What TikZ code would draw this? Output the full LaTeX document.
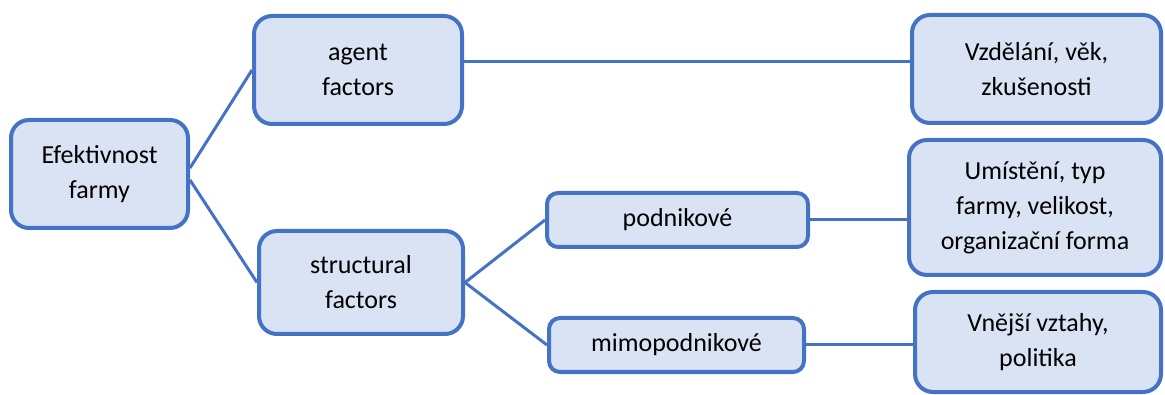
\documentclass[tikz,border=0pt]{standalone}
\usepackage{fontspec}
\setmainfont{Carlito}
\definecolor{boxblue}{HTML}{4472C4}
\definecolor{boxfill}{HTML}{DAE3F3}

\begin{document}
\begin{tikzpicture}[x=1pt,y=-1pt,
  box/.style={draw=boxblue,fill=boxfill,line width=4pt,rounded corners=18pt,
    align=center,inner sep=0pt,text=black,font=\fontsize{26}{35}\selectfont},
  smallbox/.style={box,rounded corners=11pt,minimum height=54pt},
  link/.style={draw=boxblue,line width=3pt}]

\useasboundingbox (0,0) rectangle (1165,395);

% left and middle column
\node[box,minimum width=177pt,minimum height=108pt] (eff) at (99.5,174) {Efektivnost\\farmy};
\node[box,minimum width=208pt,minimum height=108pt] (agent) at (358,70) {agent\\factors};
\node[box,minimum width=204pt,minimum height=103pt] (struct) at (361,282.5) {structural\\factors};
\node[smallbox,minimum width=261pt] (podn) at (677.5,220) {podnikové};
\node[smallbox,minimum width=255pt] (mimo) at (676.5,345) {mimopodnikové};

% right column
\node[box,minimum width=249pt,minimum height=108pt] (vzd) at (1036.5,69) {Vzdělání, věk,\\zkušenosti};
\node[box,minimum width=252pt,minimum height=135pt] (umist) at (1035,207.5) {Umístění, typ\\farmy, velikost,\\organizační forma};
\node[box,minimum width=246pt,minimum height=100pt] (vnej) at (1038,342) {Vnější vztahy,\\politika};

\draw[link] ([yshift=6pt]eff.east) -- (agent.west);
\draw[link] ([yshift=-6pt]eff.east) -- (struct.west);
\draw[link] (struct.east) -- (podn.west);
\draw[link] (struct.east) -- (mimo.west);
\draw[link] ([yshift=8pt]agent.east) -- ([yshift=8pt]agent.east -| vzd.west);
\draw[link] (podn.east) -- (podn.east -| umist.west);
\draw[link] (mimo.east) -- (mimo.east -| vnej.west);

\end{tikzpicture}
\end{document}
